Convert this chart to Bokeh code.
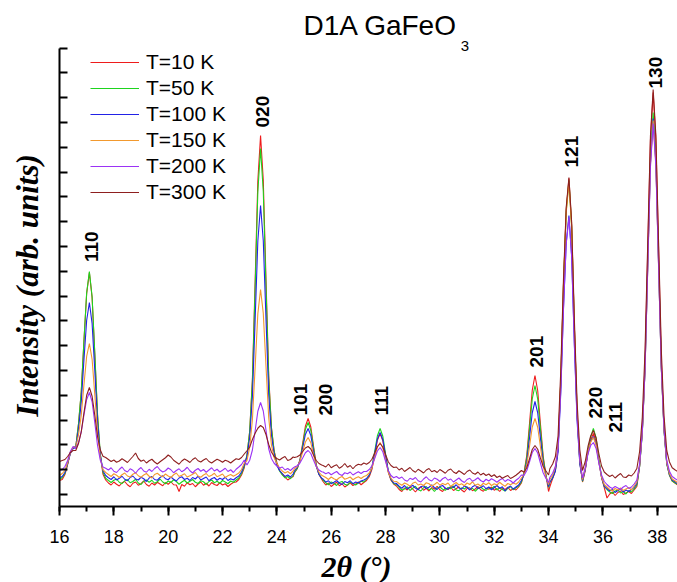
import math
from bokeh.plotting import figure
from bokeh.models import (Legend, LegendItem, Label, FixedTicker, SingleIntervalTicker,
                          Range1d, ColumnDataSource)
from bokeh.core.properties import value
from bokeh.embed import file_html
from bokeh.resources import INLINE

# ---------------- data ----------------
two_theta = [
    16.0, 16.1, 16.2, 16.3, 16.4, 16.5, 16.6, 16.7, 16.8, 16.9,
    17.0, 17.1, 17.2, 17.3, 17.4, 17.5, 17.6, 17.7, 17.8, 17.9,
    18.0, 18.1, 18.2, 18.3, 18.4, 18.5, 18.6, 18.7, 18.8, 18.9,
    19.0, 19.1, 19.2, 19.3, 19.4, 19.5, 19.6, 19.7, 19.8, 19.9,
    20.0, 20.1, 20.2, 20.3, 20.4, 20.5, 20.6, 20.7, 20.8, 20.9,
    21.0, 21.1, 21.2, 21.3, 21.4, 21.5, 21.6, 21.7, 21.8, 21.9,
    22.0, 22.1, 22.2, 22.3, 22.4, 22.5, 22.6, 22.7, 22.8, 22.9,
    23.0, 23.1, 23.2, 23.3, 23.4, 23.5, 23.6, 23.7, 23.8, 23.9,
    24.0, 24.1, 24.2, 24.3, 24.4, 24.5, 24.6,
    24.65, 24.75, 24.85, 24.95, 25.05, 25.15, 25.25, 25.35, 25.45, 25.55, 25.65,
    25.7, 25.8, 25.9, 26.0, 26.1, 26.2, 26.3, 26.4, 26.5, 26.6,
    26.7, 26.8, 26.9, 27.0, 27.1, 27.2, 27.3, 27.4, 27.5, 27.6,
    27.7, 27.8, 27.9, 28.0, 28.1, 28.2, 28.3, 28.4, 28.5, 28.6,
    28.7, 28.8, 28.9, 29.0, 29.1, 29.2, 29.3, 29.4, 29.5, 29.6,
    29.7, 29.8, 29.9, 30.0, 30.1, 30.2, 30.3, 30.4, 30.5, 30.6,
    30.7, 30.8, 30.9, 31.0, 31.1, 31.2, 31.3, 31.4, 31.5, 31.6,
    31.7, 31.8, 31.9, 32.0, 32.1, 32.2, 32.3, 32.4, 32.5, 32.6,
    32.7, 32.8, 32.9, 33.0, 33.1, 33.2, 33.3, 33.4, 33.5, 33.6,
    33.7, 33.8, 33.9, 34.0,
    34.05, 34.15, 34.25, 34.35, 34.45, 34.55, 34.65, 34.75, 34.85, 34.95,
    35.05, 35.15, 35.25, 35.35, 35.45, 35.55, 35.65, 35.75, 35.85, 35.95,
    36.05, 36.15, 36.25, 36.35, 36.45, 36.55, 36.65, 36.75, 36.85, 36.95,
    37.05, 37.15, 37.25, 37.35, 37.45, 37.55, 37.65, 37.75, 37.85, 37.95,
    38.05, 38.15, 38.25, 38.35, 38.45, 38.55, 38.65, 38.75,
]

i_10K = [
    156, 160, 180, 220, 268, 288, 292,
    383, 509, 713, 904, 988, 887, 659, 414, 258, 181,
    158, 146, 138, 150, 141, 134, 147, 152, 139, 131, 145, 150, 137, 143, 154, 140, 133, 146, 138, 149,
    142, 135, 148, 141, 151, 139, 138, 112, 140, 133, 147, 139, 144, 131, 142, 150, 137, 145, 134, 148,
    140, 136, 147, 138, 143, 132, 141, 148, 150, 160, 178, 207,
    255, 353, 562, 951, 1355, 1536, 1358, 960, 576, 370, 274,
    228, 196, 181, 170, 158, 166, 172,
    187, 203, 239, 305, 373, 404, 370, 293, 219, 180, 161,
    152, 138, 146, 132, 141, 149, 135, 143, 130, 138, 147, 136, 142, 150, 139, 148,
    156, 171, 201, 258, 317, 344, 315, 252, 190, 157, 142,
    134, 120, 112, 126, 118, 130, 122, 110, 124, 131, 117, 125, 114, 128, 121, 133, 119, 112, 126, 120,
    129, 116, 123, 131, 118, 110, 124, 127, 115, 122, 132, 119, 113, 125, 121, 130, 117, 124, 112, 126,
    120, 129, 116, 123, 118, 130, 146,
    190, 258, 385, 517, 576, 516, 384, 255, 180, 112,
    132, 164, 195, 282, 555, 941, 1240, 1364, 1179, 772, 426, 229,
    150, 196, 268, 318, 344, 312, 236, 168, 128,
    86, 102, 110, 96, 108, 114, 100, 106, 112, 104, 118, 132,
    212, 355, 625, 1071, 1517, 1708, 1519, 1077, 635, 367, 225, 177, 154, 146, 138,
]

i_50K = [
    160, 168, 184, 224, 268, 284, 292,
    383, 511, 716, 907, 992, 891, 664, 421, 265, 189,
    165, 156, 148, 157, 162, 149, 143, 155, 160, 147, 152, 161, 146, 140, 153, 158, 149, 157, 145, 151,
    162, 150, 143, 154, 148, 159, 152, 141, 150, 157, 146, 153, 160, 149, 144, 155, 151, 140, 152, 158,
    147, 153, 145, 156, 150, 143, 154, 149, 158, 166, 184, 212,
    259, 352, 552, 925, 1311, 1484, 1313, 931, 563, 365, 273,
    222, 194, 178, 166, 172, 163, 176,
    189, 204, 237, 297, 360, 388, 356, 286, 217, 181, 164,
    158, 147, 139, 150, 145, 136, 148, 152, 141, 137, 149, 144, 138, 146, 153, 150,
    162, 177, 210, 272, 335, 364, 333, 263, 196, 160, 143,
    140, 128, 118, 122, 131, 116, 125, 133, 120, 114, 127, 132, 119, 124, 112, 126, 130, 121, 117, 128,
    123, 134, 118, 115, 127, 122, 131, 119, 125, 113, 124, 130, 121, 116, 128, 122, 133, 118, 126, 120,
    114, 125, 131, 119, 127, 134, 150,
    186, 248, 363, 482, 536, 482, 362, 246, 180, 128,
    149, 167, 198, 284, 555, 937, 1233, 1356, 1172, 768, 426, 230,
    152, 200, 276, 330, 364, 326, 244, 172, 132,
    120, 110, 104, 114, 118, 106, 112, 102, 116, 110, 122, 138,
    210, 346, 603, 1025, 1447, 1628, 1448, 1030, 611, 356, 222, 177, 154, 147, 140,
]

i_100K = [
    168, 172, 188, 224, 264, 284, 288,
    362, 468, 639, 797, 868, 784, 593, 389, 259, 195,
    176, 167, 160, 171, 158, 165, 173, 161, 155, 168, 174, 162, 158, 169, 163, 152, 166, 172, 160, 157,
    168, 175, 163, 159, 170, 161, 154, 166, 171, 160, 165, 156, 168, 162, 173, 158, 164, 170, 155, 163,
    168, 157, 165, 160, 169, 156, 163, 158, 167, 174, 190, 218,
    251, 328, 492, 797, 1114, 1256, 1116, 802, 500, 338, 262,
    216, 196, 184, 172, 178, 170, 182,
    195, 208, 235, 287, 340, 364, 336, 273, 213, 180, 165,
    162, 150, 155, 143, 149, 156, 145, 140, 152, 147, 155, 143, 150, 146, 154, 158,
    164, 178, 208, 264, 322, 348, 319, 256, 194, 161, 146,
    144, 133, 125, 136, 122, 130, 137, 126, 119, 131, 135, 124, 129, 138, 127, 120, 132, 136, 125, 121,
    133, 128, 139, 126, 122, 134, 129, 118, 131, 137, 124, 128, 135, 123, 130, 119, 127, 136, 125, 131,
    114, 128, 134, 122, 130, 138, 156,
    180, 231, 328, 427, 472, 427, 327, 230, 175, 132,
    150, 166, 193, 269, 509, 846, 1107, 1216, 1054, 698, 395, 222,
    156, 200, 268, 312, 332, 302, 230, 168, 134,
    124, 114, 120, 108, 116, 122, 110, 118, 112, 120, 128, 144,
    213, 346, 598, 1012, 1426, 1604, 1428, 1017, 606, 356, 224, 180, 158, 151, 143,
]

i_150K = [
    176, 184, 196, 228, 268, 288, 288,
    339, 416, 539, 653, 704, 641, 498, 345, 247, 199,
    188, 180, 172, 183, 177, 168, 179, 186, 174, 170, 181, 187, 175, 169, 178, 184, 173, 166, 180, 185,
    176, 171, 182, 174, 168, 179, 186, 172, 177, 183, 170, 175, 181, 188, 174, 169, 178, 184, 172, 177,
    185, 171, 176, 182, 168, 175, 180, 173, 179, 186, 200, 226,
    236, 288, 399, 608, 823, 920, 825, 613, 408, 298, 247,
    224, 206, 194, 186, 192, 183, 194,
    203, 212, 233, 271, 310, 328, 307, 259, 213, 189, 177,
    174, 168, 160, 170, 163, 158, 167, 172, 161, 165, 170, 159, 166, 171, 164, 172,
    176, 186, 207, 248, 289, 308, 286, 237, 190, 165, 153,
    152, 144, 137, 146, 141, 133, 145, 150, 138, 142, 136, 147, 143, 134, 140, 149, 137, 144, 139, 146,
    132, 141, 148, 138, 143, 135, 146, 140, 151, 137, 142, 134, 145, 139, 147, 136, 143, 138, 149, 140,
    133, 144, 139, 146, 141, 150, 166,
    180, 219, 293, 370, 404, 369, 291, 215, 172, 140,
    160, 178, 209, 294, 560, 936, 1227, 1348, 1167, 770, 433, 240,
    160, 204, 270, 310, 328, 298, 230, 170, 140,
    130, 120, 114, 124, 118, 126, 116, 122, 128, 118, 134, 150,
    216, 348, 598, 1009, 1420, 1596, 1421, 1014, 606, 358, 227, 184, 162, 155, 147,
]

i_200K = [
    196, 200, 212, 236, 272, 292, 284,
    308, 350, 418, 480, 508, 471, 386, 296, 238, 210,
    205, 198, 207, 193, 188, 200, 210, 196, 190, 203, 197, 185, 199, 208, 194, 189, 201, 192, 204, 212,
    198, 190, 195, 206, 199, 187, 196, 203, 191, 198, 209, 195, 186, 197, 204, 193, 200, 189, 198, 207,
    194, 201, 190, 197, 205, 192, 199, 188, 201, 210, 220, 238,
    218, 237, 278, 354, 433, 468, 434, 357, 283, 244, 225,
    214, 206, 210, 198, 204, 196, 206,
    210, 215, 226, 246, 267, 276, 264, 237, 212, 198, 191,
    190, 183, 188, 179, 186, 192, 181, 176, 187, 183, 190, 178, 185, 191, 184, 192,
    192, 200, 215, 244, 274, 288, 271, 233, 196, 176, 167,
    172, 164, 170, 158, 153, 165, 160, 168, 155, 150, 162, 171, 159, 154, 166, 161, 152, 163, 169, 157,
    162, 150, 158, 166, 155, 148, 160, 165, 153, 159, 167, 156, 150, 161, 154, 163, 157, 149, 158, 164,
    152, 160, 155, 146, 157, 165, 178,
    177, 196, 231, 268, 284, 266, 226, 187, 165, 148,
    169, 185, 212, 286, 519, 848, 1102, 1208, 1050, 703, 408, 240,
    166, 206, 262, 296, 308, 284, 226, 178, 152,
    140, 130, 124, 132, 126, 120, 130, 136, 124, 130, 142, 158,
    223, 353, 599, 1005, 1410, 1584, 1412, 1010, 609, 365, 236, 193, 172, 164, 157,
]

i_300K = [
    232, 236, 240, 252, 268, 276, 276,
    304, 351, 427, 497, 528, 493, 416, 332, 279, 253,
    248, 240, 232, 238, 229, 234, 243, 236, 228, 240, 252, 266, 244, 233, 238, 226, 235, 241, 230, 222,
    231, 239, 247, 258, 250, 237, 229, 221, 234, 242, 236, 228, 240, 247, 235, 230, 238, 244, 232, 226,
    234, 241, 236, 229, 237, 233, 226, 235, 243, 240, 248, 262,
    275, 290, 320, 345, 365, 376, 368, 340, 300, 270, 252,
    244, 238, 246, 252, 236, 240, 250,
    248, 251, 258, 272, 286, 292, 282, 258, 236, 224, 218,
    216, 210, 222, 207, 214, 219, 205, 212, 224, 209, 216, 203, 215, 221, 218, 226,
    221, 228, 241, 266, 292, 304, 290, 260, 231, 216, 208,
    210, 198, 205, 192, 200, 208, 196, 189, 201, 194, 186, 198, 204, 191, 196, 188, 200, 193, 185, 197,
    202, 190, 184, 195, 188, 180, 192, 198, 186, 181, 190, 178, 185, 176, 182, 172, 179, 168, 174, 165,
    171, 176, 164, 170, 177, 186, 196,
    189, 208, 243, 280, 296, 281, 246, 213, 195, 178,
    204, 222, 251, 334, 596, 964, 1249, 1368, 1190, 800, 468, 279,
    196, 232, 292, 334, 356, 326, 264, 214, 190,
    180, 172, 178, 166, 176, 184, 170, 168, 178, 174, 186, 204,
    271, 409, 671, 1103, 1535, 1720, 1536, 1106, 676, 414, 276, 230, 207, 199, 192,
]

series_labels = ["T=10 K", "T=50 K", "T=100 K", "T=150 K", "T=200 K", "T=300 K"]
series_colors = ["#ee1c1c", "#1ed41e", "#2222e6", "#f2992e", "#9b33f5", "#8e1f1f"]

hkl_labels = ["110", "020", "101", "200", "111", "201", "121", "220", "211", "130"]
hkl_x = [17.18, 23.47, 24.87, 25.79, 27.85, 33.56, 34.84, 35.73, 36.46, 37.94]
hkl_y = [1030, 1568, 416, 416, 416, 608, 1408, 404, 348, 1724]

x_axis_min, x_axis_max = 16, 38.745
y_axis_min, y_axis_max = 52, 1884
x_tick_step = 2
y_ticks = [100 + 99.2 * k for k in range(18)] + [y_axis_max]

# ---------------- figure (frame fills the canvas, axes at fixed locations) ----------------
p = figure(width=677, height=582, output_backend="svg", toolbar_location=None,
           x_range=Range1d(13.8285, 38.7457), y_range=Range1d(-252, 2076),
           min_border_left=0, min_border_right=0, min_border_top=0, min_border_bottom=0,
           background_fill_color="white", border_fill_color="white")
p.outline_line_color = None
p.xgrid.visible = False
p.ygrid.visible = False

series = [i_10K, i_50K, i_100K, i_150K, i_200K, i_300K]
items = []
for lab, col, ys in zip(series_labels, series_colors, series):
    r = p.line(two_theta, ys, line_color=col, line_width=1.1)
    items.append(LegendItem(label=lab, renderers=[r]))

src = ColumnDataSource(dict(x=hkl_x, y=hkl_y, t=hkl_labels))
p.text(x="x", y="y", text="t", source=src, angle=math.pi / 2,
       text_align="left", text_baseline="middle",
       text_font=value("Liberation Sans"), text_font_style="bold",
       text_font_size="19px", text_color="black")

legend = Legend(items=items, location=(90, 378), padding=0, margin=0,
                border_line_color=None, background_fill_alpha=0,
                label_text_font="Liberation Sans", label_text_font_size="21px",
                label_text_color="black", label_standoff=7,
                glyph_width=49, glyph_height=24, label_height=24, spacing=2)
p.add_layout(legend)

# title with subscript
p.add_layout(Label(x=30.648, y=1978, text="D1A GaFeO", text_align="right",
                   text_baseline="middle", text_font="Liberation Sans",
                   text_font_size="28px", text_color="black"))
p.add_layout(Label(x=30.77, y=1896, text="3", text_align="left",
                   text_baseline="middle", text_font="Liberation Sans",
                   text_font_size="15px", text_color="black"))

# axis titles
p.add_layout(Label(x=26.93, y=-188, text="2θ (°)", text_align="center",
                   text_baseline="middle", text_font="Liberation Serif",
                   text_font_style="bold italic", text_font_size="30px",
                   text_color="black"))
p.add_layout(Label(x=14.84, y=936, text="Intensity (arb. units)", angle=math.pi / 2,
                   text_align="center", text_baseline="middle",
                   text_font="Liberation Serif", text_font_style="bold italic",
                   text_font_size="31px", text_color="black"))

xa = p.xaxis[0]
xa.fixed_location = y_axis_min
xa.bounds = (x_axis_min, x_axis_max)
xa.ticker = SingleIntervalTicker(interval=x_tick_step, num_minor_ticks=2)
xa.axis_line_width = 2
xa.axis_line_color = "black"
xa.major_tick_line_width = 2
xa.minor_tick_line_width = 2
xa.major_tick_out = 9
xa.major_tick_in = 0
xa.minor_tick_out = 5
xa.minor_tick_in = 0
xa.major_label_text_font = "Liberation Sans"
xa.major_label_text_font_size = "18px"
xa.major_label_text_color = "black"
xa.major_label_standoff = 14

ya = p.yaxis[0]
ya.fixed_location = x_axis_min
ya.bounds = (y_axis_min, y_axis_max)
ya.ticker = FixedTicker(ticks=y_ticks, minor_ticks=[])
ya.axis_line_width = 2
ya.axis_line_color = "black"
ya.major_tick_line_width = 2
ya.major_tick_in = 8
ya.major_tick_out = 0
ya.major_label_text_color = None

open("out.html", "w").write(file_html(p, INLINE))
